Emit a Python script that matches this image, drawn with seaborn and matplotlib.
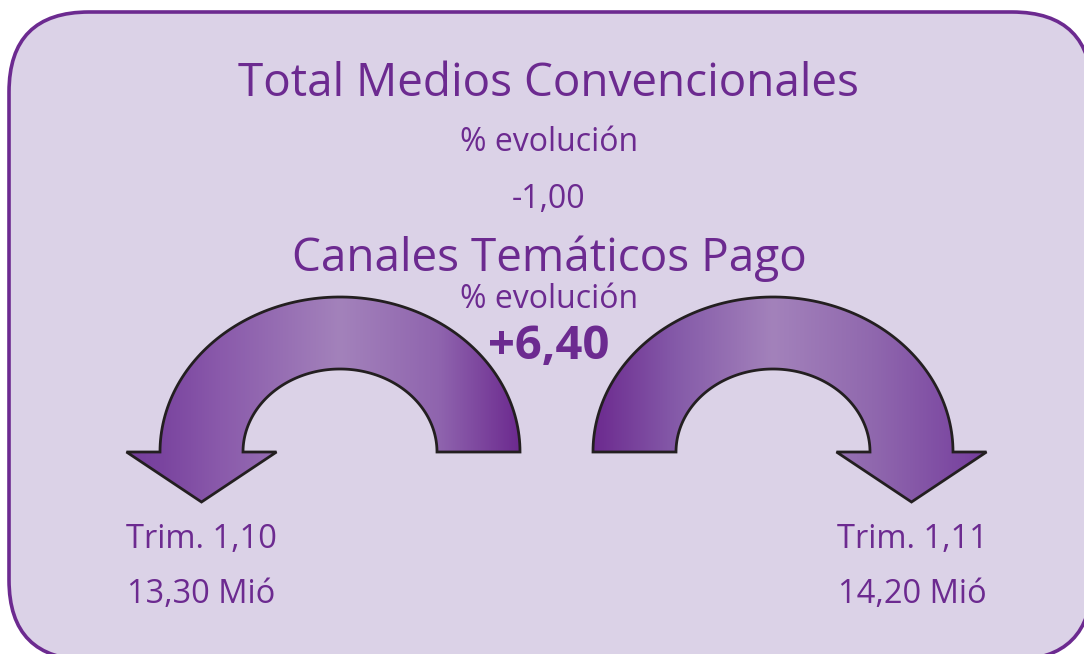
import numpy as np
import matplotlib
matplotlib.use("Agg")
import matplotlib.pyplot as plt
import seaborn as sns
from matplotlib.patches import FancyBboxPatch, PathPatch
from matplotlib.path import Path
from matplotlib.colors import LinearSegmentedColormap

# ---- data ----
header_title = "Total Medios Convencionales"
header_evol = -1.00
section_title = "Canales Temáticos Pago"
section_evol = 6.40
evol_label = "% evolución"
periods = ["Trim. 1,10", "Trim. 1,11"]
audiences = [13.30, 14.20]   # millions
audience_unit = "Mió"

def fmt(v, sign=False):
    s = f"{v:+.2f}" if sign else f"{v:.2f}"
    return s.replace(".", ",")

sns.set_theme(style="white")
plt.rcParams['font.family'] = ['Open Sans', 'DejaVu Sans']

W, H = 1084, 654
fig = plt.figure(figsize=(W / 100, H / 100), dpi=100)
fig.patch.set_facecolor("white")
ax = fig.add_axes([0, 0, 1, 1])
ax.set_xlim(0, W)
ax.set_ylim(H, 0)
ax.axis("off")

PURPLE = "#6c2a90"
BOX_FILL = "#dbd2e7"

box = FancyBboxPatch((9, 12), 1092 - 9, 660 - 12,
                     boxstyle="round,pad=0,rounding_size=80",
                     facecolor=BOX_FILL, edgecolor=PURPLE, linewidth=2.6,
                     zorder=1, clip_on=False)
ax.add_patch(box)


def arrow_path(cx, base_y, r_out_x, r_out_y, r_in_x, r_in_y, head_half, head_len, head_left):
    th = np.linspace(0, np.pi, 120)
    outer = np.column_stack([cx + r_out_x * np.cos(th), base_y - r_out_y * np.sin(th)])
    inner = np.column_stack([cx + r_in_x * np.cos(th), base_y - r_in_y * np.sin(th)])
    mid = (r_out_x + r_in_x) / 2
    if head_left:
        hx = cx - mid
        pts = list(outer)
        pts += [(hx - head_half, base_y), (hx, base_y + head_len), (hx + head_half, base_y)]
        pts += list(inner[::-1])
    else:
        hx = cx + mid
        pts = list(outer[::-1])
        pts += [(hx + head_half, base_y), (hx, base_y + head_len), (hx - head_half, base_y)]
        pts += list(inner)
    pts.append(pts[0])
    codes = [Path.MOVETO] + [Path.LINETO] * (len(pts) - 2) + [Path.CLOSEPOLY]
    return Path(np.array(pts), codes)


def draw_arrow(cx, head_left, stops):
    path = arrow_path(cx, 452, 180, 155, 97, 83, 75, 50, head_left)
    x0, x1 = cx - 230, cx + 230
    cmap = LinearSegmentedColormap.from_list(
        "g", [((s - x0) / (x1 - x0), c) for s, c in stops])
    grad = np.linspace(0, 1, 512)[None, :]
    im = ax.imshow(grad, cmap=cmap, extent=(x0, x1, 510, 290),
                   aspect="auto", zorder=2, interpolation="bilinear")
    patch = PathPatch(path, facecolor="none", edgecolor="#231f20",
                      linewidth=2.0, zorder=3, joinstyle="miter")
    ax.add_patch(patch)
    im.set_clip_path(patch)


lc = 340
draw_arrow(lc, True, [
    (lc - 230, "#733a9a"), (lc - 180, "#7a449f"), (lc - 120, "#8a5aab"),
    (lc, "#a382bb"), (lc + 100, "#8f64ae"), (lc + 180, "#6c2a8f"), (lc + 230, "#6c2a8f")])
rc = 773
draw_arrow(rc, False, [
    (rc - 230, "#6c2a8f"), (rc - 180, "#6c2a8f"), (rc - 100, "#8459a8"),
    (rc, "#a382bb"), (rc + 100, "#9068ae"), (rc + 180, "#7d4aa2"), (rc + 230, "#71369a")])

ax.set_xlim(0, W)
ax.set_ylim(H, 0)

cx = 549
ax.text(cx, 96, header_title, fontsize=33, color=PURPLE, ha="center", va="baseline", zorder=5)
ax.text(cx, 151, evol_label, fontsize=23, color=PURPLE, ha="center", va="baseline", zorder=5)
ax.text(cx, 208, fmt(header_evol), fontsize=23, color=PURPLE, ha="center", va="baseline", zorder=5)
ax.text(cx, 271, section_title, fontsize=33, color=PURPLE, ha="center", va="baseline", zorder=5)
ax.text(cx, 308, evol_label, fontsize=23, color=PURPLE, ha="center", va="baseline", zorder=5)
ax.text(cx, 359, fmt(section_evol, sign=True), fontsize=34, fontweight="bold",
        color=PURPLE, ha="center", va="baseline", zorder=5)

for x, p, a in zip([201, 912], periods, audiences):
    ax.text(x, 548, p, fontsize=23.5, color=PURPLE, ha="center", va="baseline", zorder=5)
    ax.text(x, 603, f"{fmt(a)} {audience_unit}", fontsize=23.5, color=PURPLE,
            ha="center", va="baseline", zorder=5)

fig.savefig("out.png", dpi=100, facecolor="white")
